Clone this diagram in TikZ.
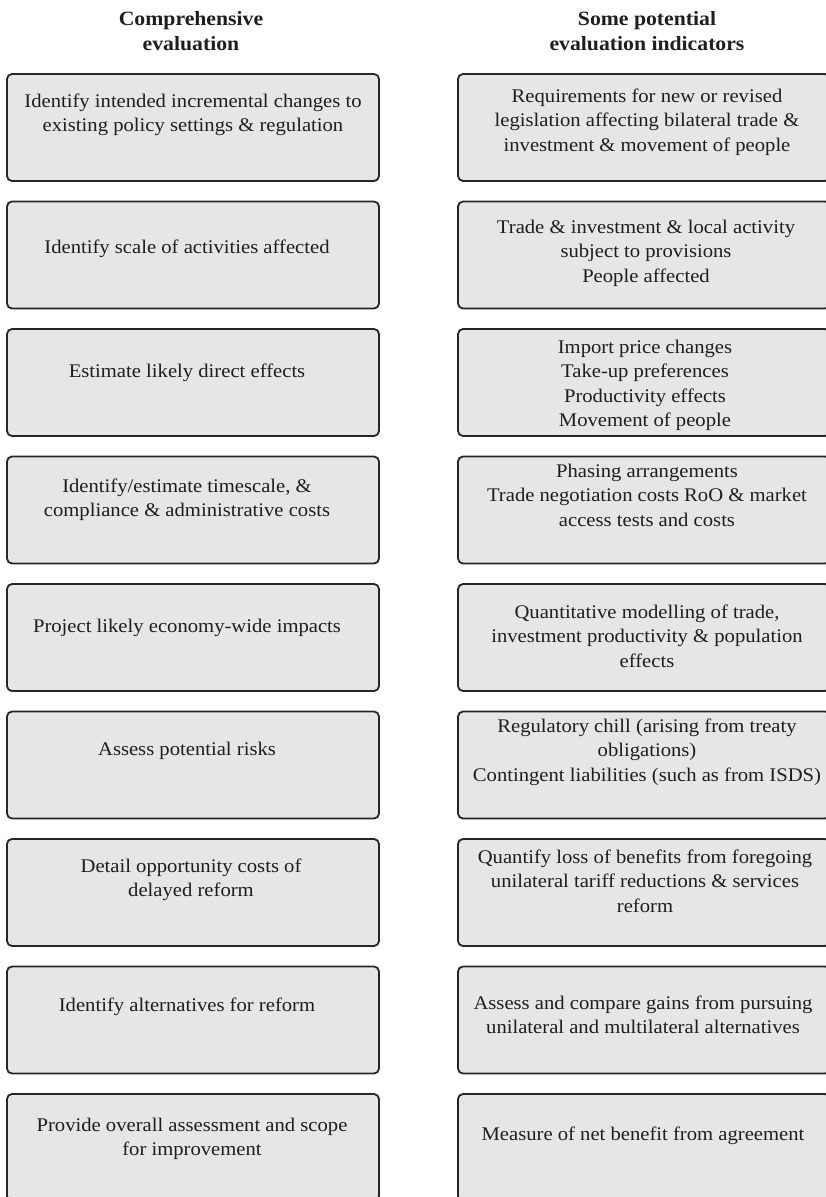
\documentclass[tikz,border=0pt]{standalone}
\usepackage{fontspec}
\setmainfont{Liberation Serif}[FakeStretch=1.07]
\usepackage{array}
\definecolor{boxfill}{HTML}{E6E6E6}
\definecolor{boxline}{HTML}{262626}
\definecolor{ink}{HTML}{1E1E1E}
\newcommand{\tb}[1]{\begin{tabular}[t]{@{}c@{}}#1\end{tabular}}
\tikzset{
  box/.style={draw=boxline, fill=boxfill, line width=1.8pt, rounded corners=5pt,
    minimum width=372pt, minimum height=107pt, inner sep=0pt},
  txt/.style={anchor=base, inner sep=0pt, text=ink, font=\fontsize{19.3}{24.5}\selectfont},
  head/.style={anchor=base, inner sep=0pt, text=ink, font=\fontsize{20.3}{25}\selectfont\bfseries}
}
\begin{document}
\begin{tikzpicture}[x=1pt, y=-1pt]
\useasboundingbox (0,0) rectangle (826,1197);
\clip (0,0) rectangle (826,1197);
% headings
\node[head] (hL) at (191,25) {\tb{Comprehensive\\evaluation}};
\node[head] (hR) at (647,25) {\tb{Some potential\\evaluation indicators}};
% boxes
\foreach \i/\t in {1/74,2/201.5,3/329,4/456.5,5/584,6/711.5,7/839,8/966.5,9/1094}{
  \node[box] (L\i) at (193,\t+53.5) {};
  \node[box] (R\i) at (644,\t+53.5) {};
}
% left texts
\node[txt] (tL1) at (193,107) {\tb{Identify intended incremental changes to\\existing policy settings \& regulation}};
\node[txt] (tL2) at (187,253) {\tb{Identify scale of activities affected}};
\node[txt] (tL3) at (187,377) {\tb{Estimate likely direct effects}};
\node[txt] (tL4) at (187,492) {\tb{Identify/estimate timescale, \&\\compliance \& administrative costs}};
\node[txt] (tL5) at (187,632) {\tb{Project likely economy-wide impacts}};
\node[txt] (tL6) at (187,755) {\tb{Assess potential risks}};
\node[txt] (tL7) at (191,872) {\tb{Detail opportunity costs of\\delayed reform}};
\node[txt] (tL8) at (187,1011) {\tb{Identify alternatives for reform}};
\node[txt] (tL9) at (192,1131) {\tb{Provide overall assessment and scope\\for improvement}};
% right texts
\node[txt] (tR1) at (647,102) {\tb{Requirements for new or revised\\legislation affecting bilateral trade \&\\investment \& movement of people}};
\node[txt] (tR2) at (646,233) {\tb{Trade \& investment \& local activity\\subject to provisions\\People affected}};
\node[txt] (tR3) at (645,353) {\tb{Import price changes\\Take-up preferences\\Productivity effects\\Movement of people}};
\node[txt] (tR4) at (647,477) {\tb{Phasing arrangements\\Trade negotiation costs RoO \& market\\access tests and costs}};
\node[txt] (tR5) at (647,618) {\tb{Quantitative modelling of trade,\\investment productivity \& population\\effects}};
\node[txt] (tR6) at (647,732) {\tb{Regulatory chill (arising from treaty\\obligations)\\Contingent liabilities (such as from ISDS)}};
\node[txt] (tR7) at (645,863) {\tb{Quantify loss of benefits from foregoing\\unilateral tariff reductions \& services\\reform}};
\node[txt] (tR8) at (643,1009) {\tb{Assess and compare gains from pursuing\\unilateral and multilateral alternatives}};
\node[txt] (tR9) at (643,1140) {\tb{Measure of net benefit from agreement}};
\end{tikzpicture}
\end{document}
